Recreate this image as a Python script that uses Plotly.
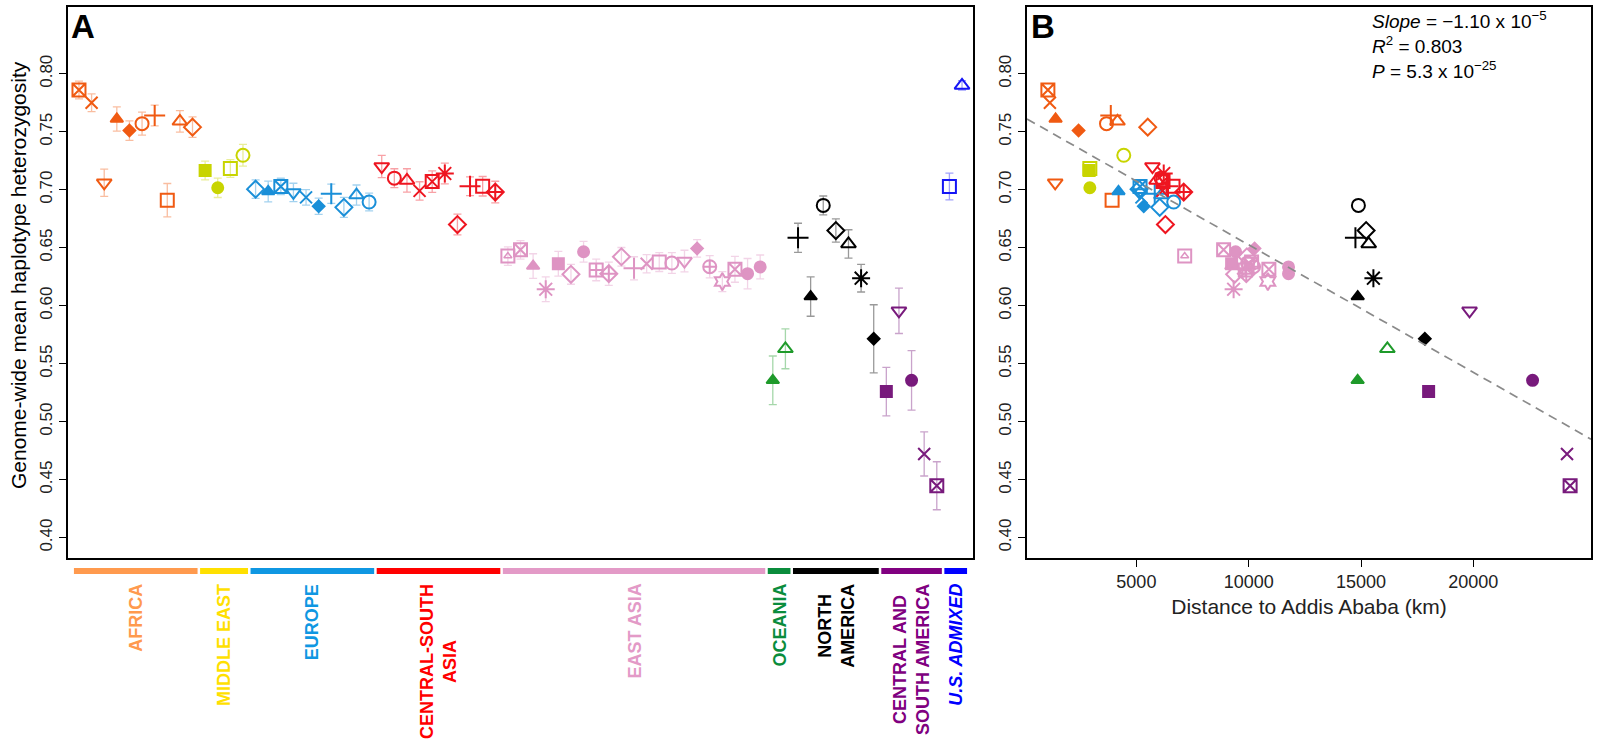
import plotly.graph_objects as go

# regions, in plotting order along panel A
REGIONS = ["AFRICA", "MIDDLE EAST", "EUROPE", "CENTRAL-SOUTH<br>ASIA", "EAST ASIA",
           "OCEANIA", "NORTH<br>AMERICA", "CENTRAL AND<br>SOUTH AMERICA", "<i>U.S. ADMIXED</i>"]
REGION_SIZES = [10, 4, 10, 10, 21, 2, 7, 5, 2]
MARKER_COLORS = ["#F05A12", "#C8D400", "#1A8FD8", "#EE1520", "#DE94C3",
                 "#1E9A2A", "#000000", "#781A7C", "#1515F5"]
LABEL_COLORS = ["#FF9A4E", "#FFE000", "#0F97E2", "#FF0000", "#E39AC7",
                "#0A8C3C", "#000000", "#800080", "#0000FF"]

# one entry per population (x = 1..71 in panel A)
SYMBOLS = [
    # Africa
    "square-x-open", "x-thin-open", "triangle-down-open", "triangle-up", "diamond",
    "circle-open", "cross-thin-open", "square-open", "triangle-up-open", "diamond-open",
    # Middle East
    "square", "circle", "square-open", "circle-open",
    # Europe
    "diamond-open", "triangle-up", "square-x-open", "triangle-down-open", "x-thin-open",
    "diamond", "cross-thin-open", "diamond-open", "triangle-up-open", "circle-open",
    # Central-South Asia
    "triangle-down-open", "circle-open", "triangle-up-open", "x-thin-open", "square-x-open",
    "asterisk-open", "diamond-open", "cross-thin-open", "square-open", "diamond-cross-open",
    # East Asia
    "square-triangle", "square-x-open", "triangle-up", "asterisk-open", "square",
    "diamond-open", "circle", "square-cross-open", "diamond-cross-open", "diamond-open",
    "cross-thin-open", "x-thin-open", "square-open", "circle-open", "triangle-down-open",
    "diamond", "circle-cross-open", "hexagram-open", "square-x-open", "circle", "circle",
    # Oceania
    "triangle-up", "triangle-up-open",
    # North America
    "cross-thin-open", "triangle-up", "circle-open", "diamond-open", "triangle-up-open",
    "asterisk-open", "diamond",
    # Central and South America
    "square", "triangle-down-open", "circle", "x-thin-open", "square-x-open",
    # U.S. admixed
    "square-open", "triangle-up-open",
]

HET = [
    0.786, 0.775, 0.706, 0.761, 0.751, 0.757, 0.764, 0.691, 0.759, 0.754,
    0.7166, 0.7017, 0.7183, 0.7297,
    0.7005, 0.6985, 0.7028, 0.6977, 0.6934, 0.6857, 0.6966, 0.6848, 0.6954, 0.6894,
    0.720, 0.710, 0.708, 0.699, 0.707, 0.714, 0.670, 0.703, 0.703, 0.698,
    0.6428, 0.6482, 0.6342, 0.6142, 0.6362, 0.6271, 0.6465, 0.6308, 0.6276, 0.6422,
    0.6322, 0.6362, 0.6376, 0.6368, 0.6385, 0.6494, 0.6336, 0.6208, 0.6314, 0.6276, 0.6334,
    0.5356, 0.5628,
    0.6585, 0.6079, 0.6865, 0.6648, 0.6533, 0.6237, 0.5714,
    0.5259, 0.5956, 0.5356, 0.4721, 0.4447,
    0.7028, 0.7900,
]

HET_ERR = [
    0.0076, 0.0077, 0.0118, 0.0104, 0.0084, 0.0099, 0.0089, 0.0144, 0.0093, 0.0089,
    0.0081, 0.0084, 0.0076, 0.0094,
    0.0080, 0.0090, 0.0071, 0.0079, 0.0067, 0.0070, 0.0083, 0.0087, 0.0087, 0.0076,
    0.0096, 0.0081, 0.0101, 0.0079, 0.0093, 0.0089, 0.0090, 0.0081, 0.0084, 0.0093,
    0.0080, 0.0080, 0.0106, 0.0107, 0.0107, 0.0086, 0.0090, 0.0093, 0.0100, 0.0080,
    0.0100, 0.0079, 0.0081, 0.0090, 0.0093, 0.0075, 0.0096, 0.0086, 0.0112, 0.0131, 0.0103,
    0.0210, 0.0172,
    0.0126, 0.0170, 0.0081, 0.0100, 0.0122, 0.0119, 0.0294,
    0.0209, 0.0196, 0.0256, 0.0190, 0.0207,
    0.0116, 0.0040,
]

# distance to Addis Ababa (km); U.S. admixed groups not shown in panel B
DIST_KM = [
    1062, 1151, 1387, 1404, 2427, 3671, 3862, 3920, 4160, 5507,
    2898, 2929, 2929, 4440,
    5120, 4204, 5164, 5151, 5227, 5329, 5818, 6040, 6116, 6662,
    5716, 6100, 5900, 6160, 6187, 6218, 6293, 6409, 6631, 7107,
    7151, 8884, 9227, 9329, 9240, 9373, 9418, 9849, 9893, 9920,
    9729, 10044, 10129, 9951, 10084, 10262, 10218, 10853, 10898, 11773, 11773,
    14849, 16173,
    14751, 14853, 14884, 15227, 15342, 15551, 17840,
    18009, 19831, 22636, 24169, 24307,
    None, None,
]

SLOPE = -1.10e-5
INTERCEPT = 0.7625
Y_TICKS = [0.40, 0.45, 0.50, 0.55, 0.60, 0.65, 0.70, 0.75, 0.80]
X_TICKS_B = [5000, 10000, 15000, 20000]
STATS = ["<i>Slope</i> = \u22121.10 x 10<sup>\u22125</sup>",
         "<i>R</i><sup>2</sup> = 0.803",
         "<i>P</i> = 5.3 x 10<sup>\u221225</sup>"]

FONT = "Liberation Sans, Arial, sans-serif"
W, H = 1600, 739
Y_RANGE = [0.3824, 0.8576]
XA_RANGE = [0.13, 71.87]
XB_RANGE = [132, 25237]


def rgba(hex_color, a):
    h = hex_color.lstrip("#")
    r, g, b = int(h[0:2], 16), int(h[2:4], 16), int(h[4:6], 16)
    return f"rgba({r},{g},{b},{a})"


def marker_size(sym):
    if sym == "diamond":
        return 9
    if sym in ("circle", "square", "triangle-up"):
        return 11
    if sym in ("cross-thin-open", "asterisk-open"):
        return 15
    if sym == "x-thin-open":
        return 12
    return 13


fig = go.Figure()

start = 0
for r, n in enumerate(REGION_SIZES):
    idx = list(range(start, start + n))
    col = MARKER_COLORS[r]
    syms = ["square-open" if SYMBOLS[i] == "square-triangle" else SYMBOLS[i] for i in idx]
    sizes = [marker_size(s) for s in syms]
    xs = [i + 1 for i in idx]
    ys = [HET[i] for i in idx]

    # panel A
    fig.add_trace(go.Scatter(
        x=xs, y=ys, mode="markers", xaxis="x", yaxis="y",
        error_y=dict(type="data", array=[HET_ERR[i] for i in idx], visible=True,
                     color=rgba(col, 0.4), thickness=1.3, width=4),
        marker=dict(symbol=syms, size=sizes, color=col, opacity=1,
                    line=dict(color=col, width=2)),
        hoverinfo="skip",
    ))

    # panel B
    bi = [i for i in idx if DIST_KM[i] is not None]
    if bi:
        bsyms = ["square-open" if SYMBOLS[i] == "square-triangle" else SYMBOLS[i] for i in bi]
        fig.add_trace(go.Scatter(
            x=[DIST_KM[i] for i in bi], y=[HET[i] for i in bi], mode="markers",
            xaxis="x2", yaxis="y2",
            marker=dict(symbol=bsyms, size=[marker_size(s) for s in bsyms], color=col,
                        opacity=1, line=dict(color=col, width=2)),
            hoverinfo="skip",
        ))

    # square-with-triangle symbol: add inner triangle
    tri = [i for i in idx if SYMBOLS[i] == "square-triangle"]
    if tri:
        fig.add_trace(go.Scatter(
            x=[i + 1 for i in tri], y=[HET[i] for i in tri], mode="markers",
            xaxis="x", yaxis="y",
            marker=dict(symbol="triangle-up-open", size=7, color=col, opacity=1,
                        line=dict(color=col, width=1.5)),
            hoverinfo="skip",
        ))
        fig.add_trace(go.Scatter(
            x=[DIST_KM[i] for i in tri], y=[HET[i] for i in tri], mode="markers",
            xaxis="x2", yaxis="y2",
            marker=dict(symbol="triangle-up-open", size=7, color=col, opacity=1,
                        line=dict(color=col, width=1.5)),
            hoverinfo="skip",
        ))
    start += n

# regression line in panel B
fig.add_trace(go.Scatter(
    x=XB_RANGE, y=[INTERCEPT + SLOPE * d for d in XB_RANGE], mode="lines",
    xaxis="x2", yaxis="y2", line=dict(color="#8a8a8a", width=1.7, dash="9px,6px"),
    hoverinfo="skip",
))

# region bars and labels under panel A
shapes = []
annotations = []
start = 0
for r, n in enumerate(REGION_SIZES):
    x0, x1 = start + 1 - 0.4, start + n + 0.4
    shapes.append(dict(type="line", xref="x", yref="paper", x0=x0, x1=x1,
                       y0=1 - 571 / H, y1=1 - 571 / H,
                       line=dict(color=LABEL_COLORS[r], width=6)))
    annotations.append(dict(
        x=(start + 1 + start + n) / 2, xref="x", y=1 - 582 / H, yref="paper",
        text="<b>" + REGIONS[r] + "</b>", showarrow=False, textangle=-90,
        xanchor="center", yanchor="top", align="center",
        font=dict(family=FONT, size=18, color=LABEL_COLORS[r]),
    ))
    start += n

annotations.append(dict(x=18 / W, y=1 - 275 / H, xref="paper", yref="paper",
                        xanchor="center", yanchor="middle",
                        text="Genome-wide mean haplotype heterozygosity", showarrow=False,
                        textangle=-90, font=dict(family=FONT, size=21, color="black")))
annotations.append(dict(x=83 / W, y=1 - 26 / H, xref="paper", yref="paper", text="<b>A</b>",
                        xanchor="center", yanchor="middle",
                        showarrow=False, font=dict(family=FONT, size=33, color="black")))
annotations.append(dict(x=1043 / W, y=1 - 26 / H, xref="paper", yref="paper", text="<b>B</b>",
                        xanchor="center", yanchor="middle",
                        showarrow=False, font=dict(family=FONT, size=33, color="black")))
for k, s in enumerate(STATS):
    annotations.append(dict(x=1370 / W, y=1 - (20 + 25 * k) / H, xref="paper", yref="paper",
                            text=s, showarrow=False, xanchor="left", yanchor="middle",
                            font=dict(family=FONT, size=19, color="black")))

yaxis_common = dict(
    range=Y_RANGE, tickvals=Y_TICKS, ticktext=[f"{v:.2f}" for v in Y_TICKS],
    tickangle=-90, ticks="outside", ticklen=7, tickwidth=1.3, tickcolor="black",
    showgrid=False, zeroline=False, showline=True, mirror=True, linecolor="black",
    linewidth=1.5, tickfont=dict(family=FONT, size=17, color="#222"),
    domain=[1 - 558 / H, 1 - 7 / H],
)

fig.update_layout(
    width=W, height=H, margin=dict(l=0, r=0, t=0, b=0),
    paper_bgcolor="white", plot_bgcolor="white", showlegend=False,
    font=dict(family=FONT, color="black"),
    xaxis=dict(domain=[68 / W, 973 / W], range=XA_RANGE, showticklabels=False, ticks="",
               showgrid=False, zeroline=False, showline=True, mirror=True,
               linecolor="black", linewidth=1.5),
    yaxis=dict(anchor="x", **yaxis_common),
    xaxis2=dict(domain=[1027 / W, 1591 / W], range=XB_RANGE, anchor="y2",
                tickvals=X_TICKS_B, ticktext=[str(v) for v in X_TICKS_B],
                ticks="outside", ticklen=7, tickwidth=1.3,
                tickcolor="black", showgrid=False, zeroline=False, showline=True,
                mirror=True, linecolor="black", linewidth=1.5,
                tickfont=dict(family=FONT, size=18, color="#222"),
                title=dict(text="Distance to Addis Ababa (km)", standoff=8,
                           font=dict(family=FONT, size=21, color="#222"))),
    yaxis2=dict(anchor="x2", **yaxis_common),
    shapes=shapes,
    annotations=annotations,
)

fig.write_html("out.html", config={"displayModeBar": False},
               post_script="document.body.style.margin='0';")
